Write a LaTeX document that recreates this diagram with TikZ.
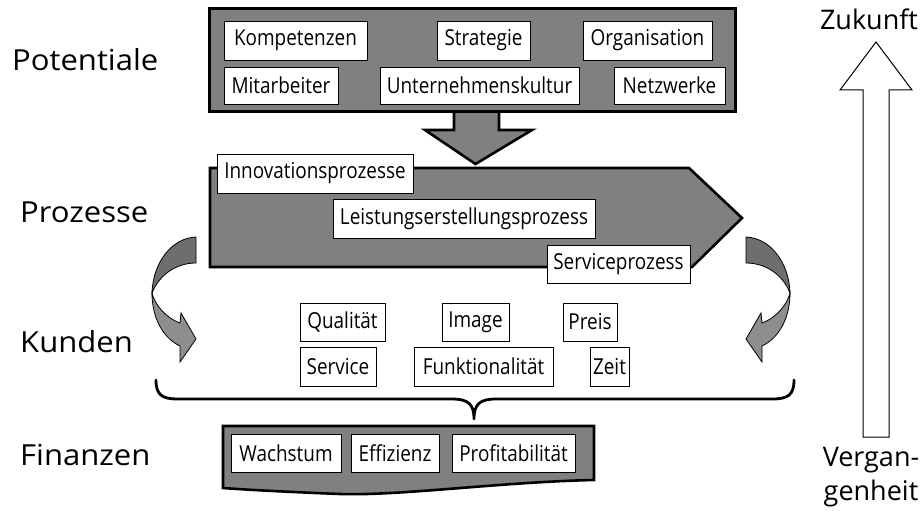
\documentclass[tikz,border=0pt]{standalone}
\usepackage{fontspec}
\setmainfont{Open Sans}
\newfontfamily\bxfam{Open Sans}[FakeStretch=0.86]
\newfontfamily\lblfam{Open Sans}[FakeStretch=1.07]
\definecolor{boxgray}{HTML}{808080}
\definecolor{bandA}{HTML}{6E6E6E}
\definecolor{bandB}{HTML}{8E8E8E}
\newcommand\bxfont{\bxfam\fontsize{22}{25}\selectfont}
\newcommand\lblfont{\lblfam\fontsize{29}{34}\selectfont}
\newcommand\rlfont{\fontsize{27}{31}\selectfont}
\begin{document}
\begin{tikzpicture}[x=1pt,y=-1pt,
  wbox/.style={draw=black, line width=0.9pt, fill=white, inner sep=0pt, font=\bxfont, text=black},
  lbl/.style={inner sep=0pt, anchor=base west, font=\lblfont},
  rlbl/.style={inner sep=0pt, anchor=base, font=\rlfont},
  gshape/.style={fill=boxgray, draw=black, line width=2.6pt, line join=miter},
  bandup/.style={fill=bandA, draw=black, line width=0.8pt},
  banddown/.style={fill=bandB, draw=black, line width=0.8pt}]
\useasboundingbox (0,0) rectangle (924,511);

% left labels
\node[lbl] (pot) at (12,70.7) {Potentiale};
\node[lbl] (proz) at (20,222) {Prozesse};
\node[lbl] (kund) at (20,352) {Kunden};
\node[lbl] (fin) at (20,465) {Finanzen};

% process arrow
\path[gshape] (210,168) -- (689,168) -- (742,218) -- (692,267) -- (210,267) -- cycle;

% down arrow
\path[gshape] (454,105) -- (454,130) -- (425,130) -- (475.5,164) -- (532,130) -- (499,130) -- (499,105) -- cycle;

% top box
\path[gshape, line width=3pt] (209,9) rectangle (735,111);

% top inner boxes
\node[wbox, minimum width=143, minimum height=39] (komp) at (295.5,40.5) {Kompetenzen};
\node[wbox, minimum width=93, minimum height=39] (strat) at (483.5,40.5) {Strategie};
\node[wbox, minimum width=129, minimum height=39] (orga) at (647.5,40.5) {Organisation};
\node[wbox, minimum width=114, minimum height=37] (mita) at (281,85.5) {Mitarbeiter};
\node[wbox, minimum width=199, minimum height=37] (ukult) at (479.5,85.5) {Unternehmenskultur};
\node[wbox, minimum width=111, minimum height=37] (netz) at (669.5,85.5) {Netzwerke};

% process boxes
\node[wbox, minimum width=196, minimum height=39] (innov) at (315,173.5) {Innovationsprozesse};
\node[wbox, minimum width=262, minimum height=39] (leist) at (464,218.5) {Leistungserstellungsprozess};
\node[wbox, minimum width=143, minimum height=38] (servp) at (618.5,264) {Serviceprozess};

% curved arrows (left)
\path[bandup] (196,237) .. controls (172,238) and (153,262) .. (152,293) .. controls (159,275) and (176,263) .. (196,263) -- cycle;
\path[banddown] (152,293) .. controls (152,318) and (163,338) .. (180,346) -- (180,362) -- (196,339) -- (181,313) -- (180,323) .. controls (166,318) and (155,305) .. (152,293) -- cycle;
% curved arrows (right)
\path[bandup] (746,237) .. controls (770,238) and (789,262) .. (790,293) .. controls (783,275) and (766,263) .. (746,263) -- cycle;
\path[banddown] (790,293) .. controls (790,318) and (779,338) .. (762,346) -- (762,362) -- (746,339) -- (761,313) -- (762,323) .. controls (776,318) and (787,305) .. (790,293) -- cycle;

% customer boxes
\node[wbox, minimum width=85, minimum height=38] (qual) at (342.5,322) {Qualität};
\node[wbox, minimum width=67, minimum height=38] (img) at (475.5,322) {Image};
\node[wbox, minimum width=54, minimum height=38] (preis) at (590,322) {Preis};
\node[wbox, minimum width=76, minimum height=39] (serv) at (338,366.5) {Service};
\node[wbox, minimum width=139, minimum height=39] (funk) at (483.5,366.5) {Funktionalität};
\node[wbox, minimum width=39, minimum height=39] (zeit) at (609.5,366.5) {Zeit};

% brace
\draw[line width=2.8pt, line cap=round, line join=round] (156,380) .. controls (156,395) and (162,399) .. (178,399) -- (452,399) .. controls (468,399) and (474,404) .. (474,419) .. controls (474,404) and (480,399) .. (496,399) -- (772,399) .. controls (788,399) and (794,395) .. (794,380);

% finance box
\path[gshape] (223,426) -- (594,426) -- (594,480) .. controls (500,482) and (400,496) .. (340,494) .. controls (290,492) and (250,490) .. (223,488) -- cycle;
\node[wbox, minimum width=110, minimum height=38] (wach) at (286,453) {Wachstum};
\node[wbox, minimum width=88, minimum height=38] (effi) at (395,453) {Effizienz};
\node[wbox, minimum width=123, minimum height=38] (prof) at (513.5,453) {Profitabilität};

% time arrow
\path[fill=white, draw=black, line width=1pt] (863,437) -- (863,90) -- (840,90) -- (876,42) -- (912,90) -- (889,90) -- (889,437) -- cycle;
\node[rlbl] (zuk) at (869,30) {Zukunft};
\node[rlbl] (verg) at (871,466) {Vergan-};
\node[rlbl] (genh) at (871,500) {genheit};
\end{tikzpicture}
\end{document}
